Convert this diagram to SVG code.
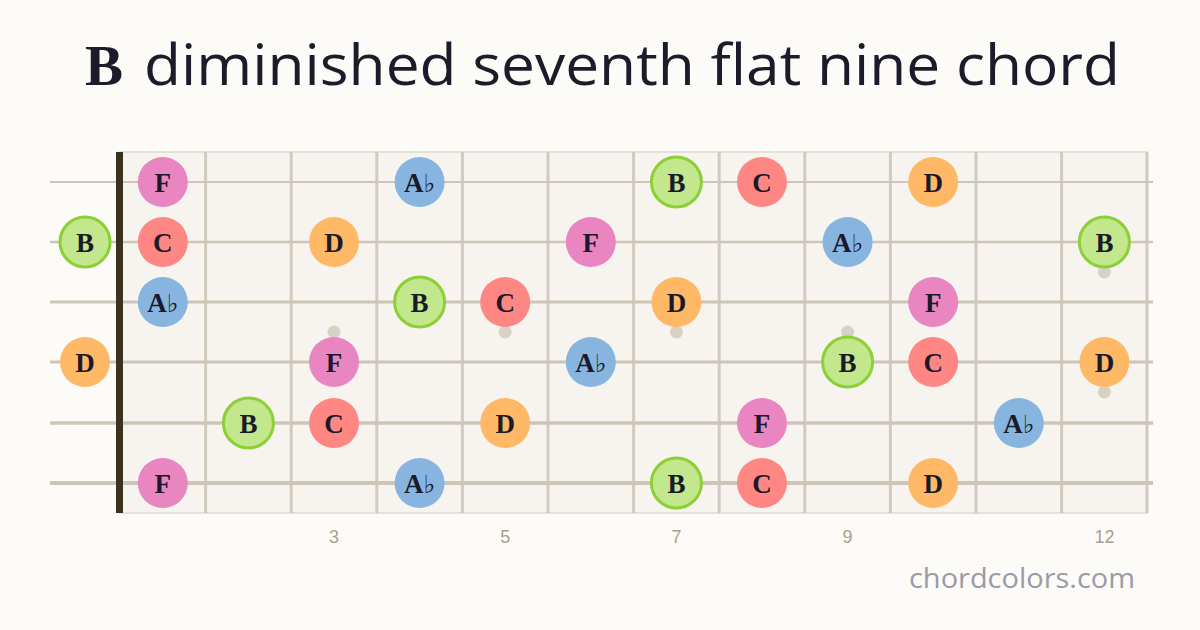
<svg xmlns="http://www.w3.org/2000/svg" width="1200" height="630" viewBox="0 0 1200 630">
<style>
.title{font-family:"Open Sans","Noto Sans",sans-serif;font-size:57px;fill:#1b1b29}
.tb{font-family:"Liberation Serif",serif;font-weight:bold;font-size:57px;fill:#1b1b29}
.fret{stroke:#d2cabe;stroke-width:3}
.str{stroke:#cdc5b8}
.dot{fill:#d8d2c6}
.F{fill:#e985c0}.C{fill:#ff8783}.A{fill:#87b5e0}.D{fill:#ffb866}
.B{fill:#c3e78c;stroke:#8ccf36;stroke-width:3}
.lbl{font-family:"Liberation Serif","DejaVu Serif",serif;font-weight:bold;font-size:27px;fill:#1a1a2a;text-anchor:middle}
.fl{font-size:25px;font-weight:normal}
.num{font-family:"Liberation Sans",Arial,sans-serif;font-size:18px;fill:#a8a090;text-anchor:middle}
.site{font-family:"Open Sans","Noto Sans",sans-serif;font-size:28px;fill:#9b9aa8}
</style>
<defs>
<circle id="c" r="25"/>
</defs>
<rect width="1200" height="630" fill="#fcfbf8"/>
<g id="title">
<text class="tb" x="85" y="85">B</text>
<text class="title" x="144" y="85" textLength="976" lengthAdjust="spacingAndGlyphs">diminished seventh flat nine chord</text>
</g>
<g id="fretboard">
<rect x="120" y="152" width="1027" height="361" fill="#f7f4ef" stroke="#e6e1d8" stroke-width="2"/>
<g class="fret">
<line x1="205.6" y1="152" x2="205.6" y2="513"/>
<line x1="291.2" y1="152" x2="291.2" y2="513"/>
<line x1="376.8" y1="152" x2="376.8" y2="513"/>
<line x1="462.4" y1="152" x2="462.4" y2="513"/>
<line x1="548" y1="152" x2="548" y2="513"/>
<line x1="633.6" y1="152" x2="633.6" y2="513"/>
<line x1="719.2" y1="152" x2="719.2" y2="513"/>
<line x1="804.8" y1="152" x2="804.8" y2="513"/>
<line x1="890.4" y1="152" x2="890.4" y2="513"/>
<line x1="976" y1="152" x2="976" y2="513"/>
<line x1="1061.6" y1="152" x2="1061.6" y2="513"/>
<line x1="1147" y1="152" x2="1147" y2="513"/>
</g>
<g class="dot">
<circle cx="334" cy="332" r="6.5"/>
<circle cx="505.2" cy="332" r="6.5"/>
<circle cx="676.4" cy="332" r="6.5"/>
<circle cx="847.6" cy="332" r="6.5"/>
<circle cx="1104.4" cy="272" r="6.5"/>
<circle cx="1104.4" cy="392" r="6.5"/>
</g>
<g class="str">
<line x1="50" y1="182" x2="1153" y2="182" stroke-width="2"/>
<line x1="50" y1="242" x2="1153" y2="242" stroke-width="2.4"/>
<line x1="50" y1="302" x2="1153" y2="302" stroke-width="2.8"/>
<line x1="50" y1="362" x2="1153" y2="362" stroke-width="3.2"/>
<line x1="50" y1="423" x2="1153" y2="423" stroke-width="3.6"/>
<line x1="50" y1="483" x2="1153" y2="483" stroke-width="4"/>
</g>
<rect x="116" y="152" width="7" height="361" fill="#3b3320"/>
</g>
<g id="notes">
<g id="s1f1"><use href="#c" class="F" x="162.8" y="182"/><text class="lbl" x="162.8" y="191.5">F</text></g>
<g id="s1f4"><use href="#c" class="A" x="419.6" y="182"/><text class="lbl" x="419.6" y="191.5">A<tspan class="fl">♭</tspan></text></g>
<g id="s1f7"><use href="#c" class="B" x="676.4" y="182"/><text class="lbl" x="676.4" y="191.5">B</text></g>
<g id="s1f8"><use href="#c" class="C" x="762" y="182"/><text class="lbl" x="762" y="191.5">C</text></g>
<g id="s1f10"><use href="#c" class="D" x="933.2" y="182"/><text class="lbl" x="933.2" y="191.5">D</text></g>
<g id="s2f0"><use href="#c" class="B" x="85" y="242"/><text class="lbl" x="85" y="251.5">B</text></g>
<g id="s2f1"><use href="#c" class="C" x="162.8" y="242"/><text class="lbl" x="162.8" y="251.5">C</text></g>
<g id="s2f3"><use href="#c" class="D" x="334" y="242"/><text class="lbl" x="334" y="251.5">D</text></g>
<g id="s2f6"><use href="#c" class="F" x="590.8" y="242"/><text class="lbl" x="590.8" y="251.5">F</text></g>
<g id="s2f9"><use href="#c" class="A" x="847.6" y="242"/><text class="lbl" x="847.6" y="251.5">A<tspan class="fl">♭</tspan></text></g>
<g id="s2f12"><use href="#c" class="B" x="1104.4" y="242"/><text class="lbl" x="1104.4" y="251.5">B</text></g>
<g id="s3f1"><use href="#c" class="A" x="162.8" y="302"/><text class="lbl" x="162.8" y="311.5">A<tspan class="fl">♭</tspan></text></g>
<g id="s3f4"><use href="#c" class="B" x="419.6" y="302"/><text class="lbl" x="419.6" y="311.5">B</text></g>
<g id="s3f5"><use href="#c" class="C" x="505.2" y="302"/><text class="lbl" x="505.2" y="311.5">C</text></g>
<g id="s3f7"><use href="#c" class="D" x="676.4" y="302"/><text class="lbl" x="676.4" y="311.5">D</text></g>
<g id="s3f10"><use href="#c" class="F" x="933.2" y="302"/><text class="lbl" x="933.2" y="311.5">F</text></g>
<g id="s4f0"><use href="#c" class="D" x="85" y="362"/><text class="lbl" x="85" y="371.5">D</text></g>
<g id="s4f3"><use href="#c" class="F" x="334" y="362"/><text class="lbl" x="334" y="371.5">F</text></g>
<g id="s4f6"><use href="#c" class="A" x="590.8" y="362"/><text class="lbl" x="590.8" y="371.5">A<tspan class="fl">♭</tspan></text></g>
<g id="s4f9"><use href="#c" class="B" x="847.6" y="362"/><text class="lbl" x="847.6" y="371.5">B</text></g>
<g id="s4f10"><use href="#c" class="C" x="933.2" y="362"/><text class="lbl" x="933.2" y="371.5">C</text></g>
<g id="s4f12"><use href="#c" class="D" x="1104.4" y="362"/><text class="lbl" x="1104.4" y="371.5">D</text></g>
<g id="s5f2"><use href="#c" class="B" x="248.4" y="423"/><text class="lbl" x="248.4" y="432.5">B</text></g>
<g id="s5f3"><use href="#c" class="C" x="334" y="423"/><text class="lbl" x="334" y="432.5">C</text></g>
<g id="s5f5"><use href="#c" class="D" x="505.2" y="423"/><text class="lbl" x="505.2" y="432.5">D</text></g>
<g id="s5f8"><use href="#c" class="F" x="762" y="423"/><text class="lbl" x="762" y="432.5">F</text></g>
<g id="s5f11"><use href="#c" class="A" x="1018.8" y="423"/><text class="lbl" x="1018.8" y="432.5">A<tspan class="fl">♭</tspan></text></g>
<g id="s6f1"><use href="#c" class="F" x="162.8" y="483"/><text class="lbl" x="162.8" y="492.5">F</text></g>
<g id="s6f4"><use href="#c" class="A" x="419.6" y="483"/><text class="lbl" x="419.6" y="492.5">A<tspan class="fl">♭</tspan></text></g>
<g id="s6f7"><use href="#c" class="B" x="676.4" y="483"/><text class="lbl" x="676.4" y="492.5">B</text></g>
<g id="s6f8"><use href="#c" class="C" x="762" y="483"/><text class="lbl" x="762" y="492.5">C</text></g>
<g id="s6f10"><use href="#c" class="D" x="933.2" y="483"/><text class="lbl" x="933.2" y="492.5">D</text></g>
</g>
<g id="fretnumbers">
<text class="num" x="334" y="543">3</text>
<text class="num" x="505.2" y="543">5</text>
<text class="num" x="676.4" y="543">7</text>
<text class="num" x="847.6" y="543">9</text>
<text class="num" x="1104.4" y="543">12</text>
</g>
<text class="site" x="909" y="588" textLength="226" lengthAdjust="spacingAndGlyphs">chordcolors.com</text>
</svg>
